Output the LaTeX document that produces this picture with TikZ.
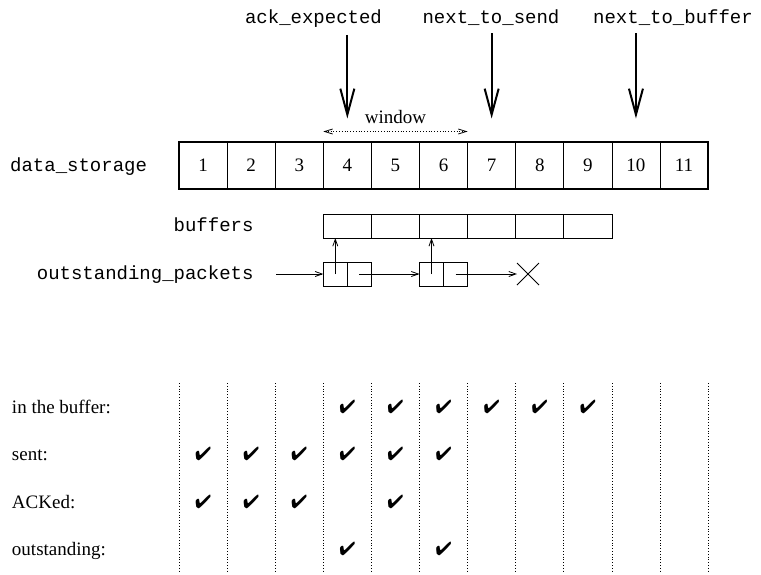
\documentclass[tikz,border=0pt]{standalone}
\usepackage{fontspec}
\setmainfont{Liberation Serif}
\setmonofont{Liberation Mono}
\usepackage{pifont}
\usetikzlibrary{arrows.meta, shapes.misc, positioning}

\begin{document}
\begin{tikzpicture}[x=1pt, y=-1pt, outer sep=0pt, font=\fontsize{19}{22}\selectfont]

\tikzstyle{cell}=[rectangle,draw,line width=0.8pt,minimum width=48.1pt,minimum height=47pt,inner sep=0pt]
\tikzstyle{bufcell}=[cell,minimum height=24pt]
\tikzstyle{half}=[rectangle,draw,line width=0.8pt,minimum width=24pt,minimum height=24pt,inner sep=0pt]
\tikzstyle{ttlabel}=[font=\ttfamily\fontsize{19}{22}\selectfont,inner sep=0pt]
\tikzstyle{rowlabel}=[anchor=base west,inner sep=0pt]
\tikzstyle{bigarrow}=[line width=2pt,-{Straight Barb[length=26pt,width=14pt]}]
\tikzstyle{smallarrow}=[line width=0.8pt,-{Straight Barb[length=7pt,width=5pt]}]
\tikzstyle{gridline}=[dotted,line width=0.8pt]

\useasboundingbox (0,0) rectangle (761,574);

% the data array
\foreach \i in {1,...,11}
  \node[cell] (c\i) at ({179+48.1*(\i-0.5)},165.5) {\i};
\draw[line width=2.4pt] (c1.north west) rectangle (c11.south east);
\node[ttlabel,anchor=base east] (storelabel) at ([xshift=-32pt]c1.base west) {data\_storage};

% pointers into the array
\node[ttlabel,anchor=base] (ackexp) at (313.5,23) {ack\_expected};
\node[ttlabel,anchor=base] (nextsend) at (491,23) {next\_to\_send};
\node[ttlabel,anchor=base] (nextbuf) at (673,23) {next\_to\_buffer};
\draw[bigarrow] ([yshift=-8pt]ackexp.south -| c4.north) -- ([yshift=23.5pt]c4.north);
\draw[bigarrow] ([yshift=-8pt]nextsend.south -| c7.north) -- ([yshift=23.5pt]c7.north);
\draw[bigarrow] ([yshift=-8pt]nextbuf.south -| c10.north) -- ([yshift=23.5pt]c10.north);

% window
\draw[gridline,{Straight Barb[length=8pt,width=5pt]}-{Straight Barb[length=8pt,width=5pt]}]
  ([yshift=10.5pt]c4.north west) -- ([yshift=10.5pt]c7.north west)
  node[midway,above=8pt,inner sep=0pt] (window) {window};

% buffers
\foreach \i in {1,...,6}
  \node[bufcell] (b\i) at ({179+48.1*(\i+2.5)},226) {};
\node[ttlabel,anchor=base east] (buflabel) at (253.5,231) {buffers};

% outstanding packets list
\node[half] (pa1) at (335.3,274) {};
\node[half] (pb1) [right=0pt of pa1] {};
\node[half] (pa2) at (431.5,274) {};
\node[half] (pb2) [right=0pt of pa2] {};
\node[draw,cross out,line width=0.8pt,minimum size=22pt,inner sep=0pt] (nil) at (528,274) {};
\node[ttlabel,anchor=base east] (outlabel) at (253.5,279) {outstanding\_packets};
\coordinate (outstart) at (276,274);

\draw[smallarrow] (outstart) -- (pa1.west);
\draw[smallarrow] (pa1.center) -- (pa1.center |- b1.south);
\draw[smallarrow] (pb1.center) -- (pa2.west);
\draw[smallarrow] (pa2.center) -- (pa2.center |- b3.south);
\draw[smallarrow] (pb2.center) -- (nil.west);

% status table
\coordinate (tabtop) at (0,383);
\coordinate (tabbot) at (0,573);
\foreach \i in {1,...,11}
  \draw[gridline] (c\i.south west |- tabtop) -- (c\i.south west |- tabbot);
\draw[gridline] (c11.south east |- tabtop) -- (c11.south east |- tabbot);

\node[rowlabel] (rbuf) at (12,413) {in the buffer:};
\node[rowlabel] (rsent) at (12,460) {sent:};
\node[rowlabel] (racked) at (12,508) {ACKed:};
\node[rowlabel] (rout) at (12,555) {outstanding:};

\foreach \r/\cols in {rbuf/{4,5,6,7,8,9}, rsent/{1,2,3,4,5,6}, racked/{1,2,3,5}, rout/{4,6}}
  \foreach \i in \cols
    \node[anchor=base,inner sep=0pt] (chk-\r-\i) at (c\i |- \r.base) {\ding{52}};

\end{tikzpicture}
\end{document}
